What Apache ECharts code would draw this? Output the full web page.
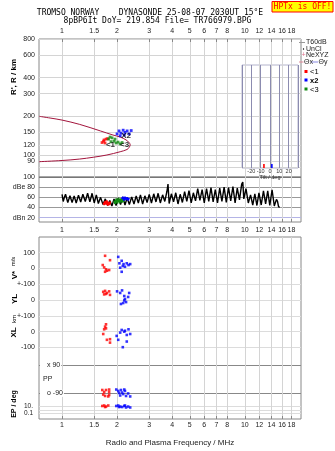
<!DOCTYPE html>
<html>
<head>
<meta charset="utf-8">
<script src="https://cdn.jsdelivr.net/npm/echarts@6/dist/echarts.min.js"></script>
<style>
  html, body { margin: 0; padding: 0; background: #fff; }
  #chart { width: 335px; height: 451px; }
</style>
</head>
<body>
<div id="chart"></div>
<script>
// ---- axis ticks -------------------------------------------------------
const freqTicks = [1, 1.5, 2, 3, 4, 5, 6, 7, 8, 10, 12, 14, 16, 18];
const heightTicks = [80, 90, 100, 120, 150, 200, 300, 400, 600, 800];
const dbTicks = [20, 40, 60, 80, 100];
const vStarTicks = [0, 100];
const ylTicks = [0, 100];
const xlTicks = [-100, 0, 100];
const ppTicks = [-90, 90];
const epTicks = [0.1, 1, 10];
const epLabelTicks = [0.1, 10];
const tiltTicks = [-20, -10, 0, 10, 20];

// ---- model profile: virtual height (km) against frequency (MHz) -------
const modelCurve = [
  [0.75, 200], [0.86, 194], [1.0, 187], [1.25, 173], [1.62, 154], [1.90, 143],
  [2.08, 138], [2.24, 131], [2.326, 125], [2.36, 120], [2.326, 114.4],
  [2.269, 110.4], [2.08, 106], [1.76, 100], [1.48, 96], [1.25, 93],
  [1.0, 90.6], [0.75, 88.7]
];

// ---- echo heights by component (MHz, km) --------------------------------
const heightO = [[1.655, 125], [1.687, 128], [1.719, 124], [1.741, 133], [1.775, 134], [1.698, 131]];
const heightX = [[2.00, 146], [2.05, 154], [2.10, 148], [2.16, 156], [2.21, 150], [2.27, 154],
                 [2.33, 146], [2.39, 155], [2.08, 141], [2.19, 143]];
const heightZ = [[1.797, 133], [1.831, 138], [1.878, 136], [1.926, 128], [1.975, 124],
                 [2.025, 126], [2.077, 122], [2.130, 125], [1.950, 133], [1.854, 127]];
const clusterTags = [['<1', 1.84, 120], ['X2', 2.24, 142], ['<3', 2.20, 121]];

// ---- received amplitude (MHz, dB) ---------------------------------------
const noiseTrace = [
  [1.00, 66], [1.015, 52], [1.03, 60], [1.045, 66], [1.06, 64], [1.075, 50], [1.09, 51], [1.105, 63],
  [1.12, 62], [1.135, 50], [1.15, 52], [1.165, 63], [1.18, 61], [1.195, 49], [1.21, 50], [1.23, 64],
  [1.25, 63], [1.265, 51], [1.28, 52], [1.30, 66], [1.32, 65], [1.34, 52], [1.36, 53], [1.38, 68],
  [1.40, 71], [1.42, 51], [1.44, 52], [1.46, 68], [1.48, 66], [1.50, 49], [1.52, 50], [1.54, 65],
  [1.56, 64], [1.58, 48], [1.60, 49], [1.625, 60], [1.65, 59], [1.675, 46], [1.70, 45], [1.725, 57],
  [1.75, 55], [1.775, 44], [1.80, 43], [1.825, 54], [1.85, 53], [1.875, 43], [1.90, 44], [1.925, 57],
  [1.95, 58], [1.975, 44], [2.00, 45], [2.03, 59], [2.06, 60], [2.09, 46], [2.12, 47], [2.15, 61],
  [2.18, 60], [2.21, 45], [2.24, 46], [2.27, 59], [2.30, 58], [2.335, 46], [2.37, 47], [2.405, 61],
  [2.44, 60], [2.475, 47], [2.51, 48], [2.545, 63], [2.58, 62], [2.615, 49], [2.65, 50], [2.685, 65],
  [2.72, 64], [2.76, 47], [2.80, 48], [2.84, 63], [2.88, 62], [2.92, 50], [2.96, 51], [3.00, 66],
  [3.04, 65], [3.085, 49], [3.13, 50], [3.175, 67], [3.22, 66], [3.265, 51], [3.31, 52], [3.355, 68],
  [3.40, 69], [3.45, 49], [3.50, 50], [3.55, 65], [3.60, 64], [3.65, 52], [3.70, 53], [3.75, 72],
  [3.80, 86], [3.855, 48], [3.91, 49], [3.965, 67], [4.02, 66], [4.075, 51], [4.13, 52], [4.19, 69],
  [4.25, 68], [4.31, 47], [4.37, 48], [4.43, 66], [4.49, 65], [4.555, 50], [4.62, 51], [4.685, 71],
  [4.75, 70], [4.815, 52], [4.88, 53], [4.95, 73], [5.02, 72], [5.09, 49], [5.16, 50], [5.23, 69],
  [5.30, 68], [5.375, 53], [5.45, 54], [5.525, 77], [5.60, 78], [5.68, 54], [5.76, 55], [5.84, 75],
  [5.92, 74], [6.00, 49], [6.09, 50], [6.175, 77], [6.26, 76], [6.35, 52], [6.44, 53], [6.53, 79],
  [6.62, 80], [6.71, 51], [6.80, 52], [6.895, 75], [6.99, 74], [7.09, 49], [7.19, 50], [7.29, 78],
  [7.39, 79], [7.495, 52], [7.60, 53], [7.705, 80], [7.81, 81], [7.92, 50], [8.03, 51], [8.145, 79],
  [8.26, 78], [8.375, 53], [8.49, 54], [8.61, 81], [8.73, 82], [8.85, 49], [8.97, 50], [9.095, 78],
  [9.22, 77], [9.35, 55], [9.48, 56], [9.615, 86], [9.75, 90], [9.875, 57], [10.0, 58], [10.15, 77],
  [10.3, 76], [10.45, 49], [10.6, 50], [10.75, 65], [10.9, 64], [11.05, 45], [11.2, 46], [11.35, 67],
  [11.5, 66], [11.65, 44], [11.8, 45], [11.95, 69], [12.1, 68], [12.3, 45], [12.5, 46], [12.65, 73],
  [12.8, 74], [13.0, 47], [13.2, 48], [13.35, 73], [13.5, 72], [13.7, 44], [13.9, 45], [14.1, 75],
  [14.3, 76], [14.5, 43], [14.7, 44], [14.9, 56], [15.1, 52], [15.3, 42], [15.5, 40]
];
const ampO = [[1.68, 50], [1.70, 45], [1.72, 53], [1.74, 46], [1.76, 54], [1.78, 44], [1.80, 51], [1.82, 45], [1.84, 52]];
const ampZ = [[1.92, 54], [1.95, 47], [1.98, 58], [2.01, 48], [2.04, 59], [2.07, 49], [2.10, 58], [2.13, 50], [2.16, 59], [2.19, 51]];
const ampX = [[2.12, 57], [2.15, 61], [2.18, 54], [2.21, 61], [2.24, 55], [2.27, 60], [2.30, 54], [2.33, 59]];

// ---- Doppler velocity, echo location, polarization, ellipticity --------
const vStarO = [[1.72, 80], [1.67, 21], [1.70, 6], [1.74, -6], [1.76, -15], [1.81, -11], [1.83, 52], [1.72, -22]];
const vStarX = [[2.03, 73], [2.12, 48], [2.17, 27], [2.15, 15], [2.26, 32], [2.31, 21], [2.08, 4],
                [2.21, 10], [2.12, -22], [2.36, 27], [2.06, 32]];
const ylO = [[1.68, 51], [1.72, 57], [1.74, 38], [1.76, 44], [1.81, 54], [1.83, 32], [1.70, 35]];
const ylX = [[2.00, 54], [2.08, 44], [2.13, 60], [2.19, 25], [2.21, 6], [2.24, -13], [2.30, 19],
             [2.10, -25], [2.33, 44], [2.16, -19], [2.19, -3]];
const xlO = [[1.74, 47], [1.72, 32], [1.70, 15], [1.74, 21], [1.68, -15], [1.76, -52], [1.83, -70], [1.83, -48]];
const xlX = [[2.12, 11], [2.08, -6], [2.21, 6], [1.99, -27], [2.26, -21], [2.36, -15], [2.03, -52],
             [2.15, -99], [2.26, -63], [2.19, 0], [2.31, 15]];
const ppO = [[1.66, -69], [1.70, -82], [1.68, -98], [1.74, -69], [1.72, -107], [1.81, -66],
             [1.81, -82], [1.81, -101], [1.79, -110]];
const ppX = [[1.98, -66], [2.03, -75], [2.05, -88], [2.10, -69], [2.13, -85], [2.16, -95],
             [2.21, -75], [2.24, -107], [2.30, -91], [2.36, -110], [2.08, -104], [2.19, -66]];
const epO = [[1.66, 16], [1.70, 22], [1.74, 11], [1.79, 22], [1.72, 8]];
const epX = [[1.98, 16], [2.03, 22], [2.08, 11], [2.13, 8], [2.19, 16], [2.24, 6], [2.30, 11],
             [2.36, 6], [2.05, 8], [2.21, 22]];

// ---- mean tilt per component (deg) --------------------------------------
const tiltO = [[-6.5, 1.2]];
const tiltX = [[2, 1.2]];

// ------------------------------------------------------------------------
const FONT = 'Liberation Sans';
const MONO = 'DejaVu Sans Mono';
const F_MIN = 0.748, F_MAX = 20.3;
const RED = '#ff0000', BLUE = '#0000ff', GREEN = '#108a10';
const PLOT_L = 39, PLOT_W = 262;

const grids = [
  { left: PLOT_L, top: 39,  width: PLOT_W, height: 138, show: true, borderColor: '#888' }, // 0 heights
  { left: PLOT_L, top: 177, width: PLOT_W, height: 45,  show: true, borderColor: '#888' }, // 1 amplitude
  { left: PLOT_L, top: 237, width: PLOT_W, height: 182, show: true, borderColor: '#888' }, // 2 lower frame
  { left: PLOT_L, top: 237, width: PLOT_W, height: 47 },  // 3 V*
  { left: PLOT_L, top: 284, width: PLOT_W, height: 32 },  // 4 YL
  { left: PLOT_L, top: 316, width: PLOT_W, height: 47 },  // 5 XL
  { left: PLOT_L, top: 363, width: PLOT_W, height: 37 },  // 6 PP
  { left: PLOT_L, top: 400, width: PLOT_W, height: 19 },  // 7 EP
  { left: 242, top: 65, width: 56, height: 103, show: true, borderColor: '#b4b4cc' } // 8 tilt
];

const labelStyle = { fontFamily: FONT, fontSize: 7, color: '#222' };
const fmtFreq = v => String(Math.round(v * 10) / 10);

function freqAxis(gridIndex, extra) {
  const base = {
    type: 'log', logBase: 10, gridIndex, min: F_MIN, max: F_MAX,
    axisLine: { show: false },
    axisTick: { show: false, customValues: freqTicks },
    axisLabel: { show: false, customValues: freqTicks },
    splitLine: { show: false }
  };
  return Object.assign(base, extra || {});
}
const freqSplit = { show: true, lineStyle: { color: '#d4d4d4', width: 1 } };
const freqLabel = Object.assign({ show: true, customValues: freqTicks, formatter: fmtFreq, margin: 4 }, labelStyle);
const freqTick = { show: true, inside: true, length: 3, customValues: freqTicks, lineStyle: { color: '#888' } };

const xAxes = [
  freqAxis(0, { position: 'top', axisLabel: Object.assign({}, freqLabel, { margin: 4 }), axisTick: freqTick, splitLine: freqSplit }),
  freqAxis(1, { position: 'bottom', axisLabel: Object.assign({}, freqLabel, { margin: 5 }), axisTick: freqTick, splitLine: freqSplit }),
  freqAxis(2, {
    position: 'bottom', axisLabel: Object.assign({}, freqLabel, { margin: 3 }), axisTick: freqTick, splitLine: freqSplit,
    name: 'Radio and Plasma Frequency / MHz', nameLocation: 'middle', nameGap: 20,
    nameTextStyle: { fontFamily: FONT, fontSize: 8, color: '#222' }
  }),
  freqAxis(3), freqAxis(4), freqAxis(5), freqAxis(6), freqAxis(7),
  {
    type: 'value', gridIndex: 8, min: -30, max: 30, interval: 10,
    axisLine: { show: false }, axisTick: { show: false },
    axisLabel: { show: true, customValues: tiltTicks, fontFamily: FONT, fontSize: 5.5, color: '#333', margin: 0 },
    splitLine: { show: true, lineStyle: { color: '#8c8cb0' } },
    name: 'Tilt / deg', nameLocation: 'middle', nameGap: 6,
    nameTextStyle: { fontFamily: FONT, fontSize: 5.5, color: '#333' }
  }
];

function valueAxis(gridIndex, min, max, ticks, labelTicks, formatter, splitColor, extra) {
  return Object.assign({
    type: 'value', gridIndex, min, max,
    axisLine: { show: false },
    axisTick: { show: false, customValues: ticks },
    axisLabel: Object.assign({ show: true, customValues: labelTicks, formatter, margin: 4 }, labelStyle),
    splitLine: { show: true, lineStyle: { color: splitColor, width: 1 } }
  }, extra || {});
}

const yAxes = [
  {
    type: 'log', logBase: 10, gridIndex: 0, min: 67.4, max: 800,
    axisLine: { show: false },
    axisTick: { show: false, customValues: heightTicks },
    axisLabel: Object.assign({ show: true, customValues: heightTicks, formatter: v => String(Math.round(v)), margin: 4 }, labelStyle),
    splitLine: { show: true, lineStyle: { color: '#d4d4d4' } }
  },
  valueAxis(1, 11.6, 100, dbTicks, dbTicks,
    v => (Math.round(v) === 80 ? 'dBe 80' : Math.round(v) === 20 ? 'dBn 20' : String(Math.round(v))),
    '#999', { splitLine: { show: true, lineStyle: { color: ['#b4b4e6', '#999', '#999', '#999', '#777'] } } }),
  { type: 'value', gridIndex: 2, min: 0, max: 1, show: false },
  valueAxis(3, -100, 200, vStarTicks, vStarTicks, v => String(Math.round(v)), '#dcdcdc'),
  valueAxis(4, -100, 100, ylTicks, ylTicks, v => (Math.round(v) === 100 ? '+-100' : String(Math.round(v))), '#dcdcdc'),
  valueAxis(5, -200, 100, xlTicks, xlTicks, v => (Math.round(v) === 100 ? '+-100' : String(Math.round(v))), '#dcdcdc'),
  valueAxis(6, -132.6, 102.7, ppTicks, ppTicks, v => (v > 0 ? 'x 90' : 'o -90'), '#888', {
    axisLabel: Object.assign({
      show: true, customValues: ppTicks, inside: true, margin: 1,
      formatter: v => (v > 0 ? 'x 90' : 'o -90'),
      backgroundColor: '#fff', padding: [0, 1, 0, 7]
    }, labelStyle)
  }),
  {
    type: 'log', logBase: 10, gridIndex: 7, min: 0.00306, max: 821,
    axisLine: { show: false },
    axisTick: { show: false, customValues: epTicks },
    axisLabel: Object.assign({ show: true, customValues: epLabelTicks, formatter: v => (v > 1 ? '10.' : '0.1'), margin: 6 }, labelStyle, { fontSize: 6.5 }),
    splitLine: { show: true, lineStyle: { color: '#dcdcdc' } }
  },
  { type: 'value', gridIndex: 8, min: 0, max: 30, show: false }
];

function dots(name, data, color, axis, size) {
  return {
    name, type: 'scatter', xAxisIndex: axis, yAxisIndex: axis, data,
    symbol: 'rect', symbolSize: size || 2.6, itemStyle: { color }, silent: true, z: 5
  };
}
function trace(name, data, color, axis, width) {
  return {
    name, type: 'line', xAxisIndex: axis, yAxisIndex: axis, data, showSymbol: false, symbol: 'none',
    lineStyle: { color, width }, silent: true, animation: false, z: 4
  };
}

const series = [
  Object.assign(trace('model', modelCurve, '#a3143c', 0, 1), { smooth: 0.35 }),
  dots('O height', heightO, RED, 0, 2.8),
  dots('Z height', heightZ, GREEN, 0, 2.8),
  dots('X height', heightX, BLUE, 0, 2.8),
  {
    name: 'tags', type: 'scatter', xAxisIndex: 0, yAxisIndex: 0, symbolSize: 0, silent: true, z: 6,
    data: clusterTags.map(t => ({ value: [t[1], t[2]], name: t[0] })),
    label: { show: true, position: 'inside', formatter: p => p.name, fontFamily: FONT, fontSize: 8, fontWeight: 'bold', color: '#000' }
  },
  trace('amplitude', noiseTrace, '#000', 1, 1.4),
  trace('O amplitude', ampO, RED, 1, 1.6),
  trace('Z amplitude', ampZ, GREEN, 1, 1.6),
  trace('X amplitude', ampX, BLUE, 1, 1.6),
  dots('V* O', vStarO, RED, 3), dots('V* X', vStarX, BLUE, 3),
  dots('YL O', ylO, RED, 4), dots('YL X', ylX, BLUE, 4),
  dots('XL O', xlO, RED, 5), dots('XL X', xlX, BLUE, 5),
  dots('PP O', ppO, RED, 6), dots('PP X', ppX, BLUE, 6),
  dots('EP O', epO, RED, 7), dots('EP X', epX, BLUE, 7),
  { name: 'tilt O', type: 'bar', xAxisIndex: 8, yAxisIndex: 8, data: tiltO, barWidth: 1.6, itemStyle: { color: RED }, silent: true },
  { name: 'tilt X', type: 'bar', xAxisIndex: 8, yAxisIndex: 8, data: tiltX, barWidth: 1.6, itemStyle: { color: BLUE }, silent: true, barGap: '-100%' }
];

function txt(x, y, text, font, fill, align, rotation) {
  return {
    type: 'text', x, y, rotation: rotation || 0, silent: true, z: 20,
    style: { text, font, fill: fill || '#000', align: align || 'left', verticalAlign: 'middle' }
  };
}
const ROT = Math.PI / 2;

const graphic = [
  // header
  txt(150, 12.5, 'TROMSO NORWAY    DYNASONDE 25-08-07 2030UT 15°E', '8px ' + MONO, '#000', 'center'),
  txt(157.5, 20.5, '8pBP6It DoY= 219.854 File= TR766979.BPG', '8px ' + MONO, '#000', 'center'),
  { type: 'rect', shape: { x: 272, y: 1.5, width: 61, height: 10.5 }, style: { fill: '#ffff00', stroke: '#ff0000', lineWidth: 1 }, silent: true, z: 19 },
  txt(302.5, 7, 'HPTx is OFF!', '8px ' + MONO, '#ff0000', 'center'),
  // legend beside the height panel
  { type: 'line', shape: { x1: 299, y1: 42.5, x2: 305, y2: 42.5 }, style: { stroke: '#999', lineWidth: 1 }, silent: true },
  txt(306, 42.5, 'T60dB', '7px ' + FONT, '#222'),
  { type: 'circle', shape: { cx: 303.5, cy: 49, r: 0.7 }, style: { fill: '#000' }, silent: true },
  txt(306, 49, 'UnCl', '7px ' + FONT, '#222'),
  txt(303.5, 55, '+', '7px ' + FONT, '#e0708c', 'center'),
  txt(306, 55, 'NeXYZ', '7px ' + FONT, '#222'),
  { type: 'line', shape: { x1: 299, y1: 62, x2: 303.5, y2: 62 }, style: { stroke: '#e08898', lineWidth: 1 }, silent: true },
  txt(304, 62, 'Θx', '7px ' + FONT, '#222'),
  { type: 'line', shape: { x1: 311, y1: 62, x2: 318, y2: 62 }, style: { stroke: '#8888e0', lineWidth: 1 }, silent: true },
  txt(318.5, 62, 'Θy', '7px ' + FONT, '#222'),
  { type: 'rect', shape: { x: 304.5, y: 70, width: 3, height: 3 }, style: { fill: RED }, silent: true },
  txt(310, 72, '<1', '7.5px ' + FONT, '#000'),
  { type: 'rect', shape: { x: 304.5, y: 78.5, width: 3, height: 3 }, style: { fill: BLUE }, silent: true },
  txt(310, 80.5, 'x2', 'bold 7.5px ' + FONT, '#000'),
  { type: 'rect', shape: { x: 304.5, y: 87.5, width: 3, height: 3 }, style: { fill: GREEN }, silent: true },
  txt(310, 89.5, '<3', '7.5px ' + FONT, '#000'),
  // vertical axis titles
  txt(13.5, 77, "R', R / km", 'bold 8px ' + FONT, '#000', 'center', ROT),
  txt(14.5, 275, 'V*', 'bold 8px ' + FONT, '#000', 'center', ROT),
  txt(13.5, 261.5, 'm/s', '6px ' + FONT, '#000', 'center', ROT),
  txt(14.5, 299, 'YL', 'bold 8px ' + FONT, '#000', 'center', ROT),
  txt(14, 319, 'km', '6px ' + FONT, '#000', 'center', ROT),
  txt(14, 332.5, 'XL', 'bold 8px ' + FONT, '#000', 'center', ROT),
  txt(14.5, 404, 'EP / deg', 'bold 7px ' + FONT, '#000', 'center', ROT),
  txt(43, 379, 'PP', '7px ' + FONT, '#222')
];

const chart = echarts.init(document.getElementById('chart'), null, { renderer: 'canvas' });
chart.setOption({
  animation: false,
  backgroundColor: '#fff',
  grid: grids,
  xAxis: xAxes,
  yAxis: yAxes,
  series,
  graphic
});
</script>
</body>
</html>
